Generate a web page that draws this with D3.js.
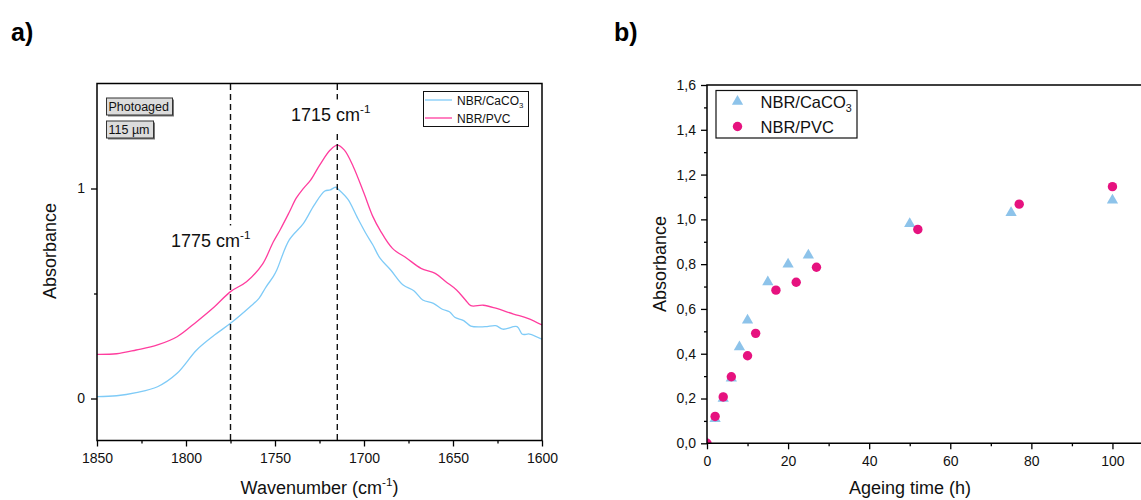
<!DOCTYPE html>
<html>
<head>
<meta charset="utf-8">
<script src="https://cdnjs.cloudflare.com/ajax/libs/d3/7.8.5/d3.min.js"></script>
<style>
    body { margin: 0; background: white; }
    svg { font-family: "Liberation Sans", Arial, sans-serif; }
</style>
</head>
<body>
<script>
// ---- panel a: FTIR spectra ----
const wnPVC = [1850,1839,1828,1816,1805,1794,1784,1775,1766,1757,1751,1747,1742,1738,1734,1730,1725,1719,1715,1711,1706,1700,1695,1691,1684,1676,1668,1660,1654,1648,1643,1640,1633,1626,1616,1608,1600];
const absPVC = [0.210,0.213,0.231,0.255,0.294,0.366,0.437,0.509,0.556,0.640,0.745,0.805,0.887,0.955,1.001,1.040,1.110,1.183,1.207,1.183,1.104,0.977,0.866,0.802,0.715,0.668,0.620,0.596,0.556,0.517,0.469,0.442,0.444,0.430,0.402,0.382,0.350];
const wnCaCO3 = [1850,1839,1828,1816,1805,1794,1784,1775,1764,1759,1755,1751,1749,1742,1734,1728,1722,1719,1716,1714,1709,1704,1699,1695,1691,1685,1678,1672,1667,1661,1656,1652,1649,1644,1640,1632,1626,1622,1614,1611,1607,1600];
const absCaCO3 = [0.009,0.013,0.028,0.056,0.120,0.231,0.302,0.358,0.437,0.477,0.532,0.580,0.612,0.755,0.834,0.921,0.988,0.993,1.006,0.993,0.948,0.866,0.787,0.731,0.668,0.612,0.540,0.513,0.469,0.453,0.425,0.413,0.387,0.371,0.345,0.342,0.347,0.330,0.342,0.306,0.307,0.282];
const peakLines = [1775, 1715];
const xTicksA = [1850, 1800, 1750, 1700, 1650, 1600];
const xMinorA = [1825, 1775, 1725, 1675, 1625];
const yTicksA = [0, 1];
const yMinorA = [0.5];

// ---- panel b: absorbance vs ageing time ----
const timeCaCO3 = [0, 2, 4, 6, 8, 10, 15, 20, 25, 50, 75, 100];
const absTimeCaCO3 = [0, 0.11, 0.20, 0.29, 0.43, 0.55, 0.72, 0.80, 0.84, 0.98, 1.03, 1.085];
const timePVC = [0, 2, 4, 6, 10, 12, 17, 22, 27, 52, 77, 100];
const absTimePVC = [0, 0.12, 0.207, 0.297, 0.391, 0.491, 0.684, 0.719, 0.786, 0.955, 1.068, 1.146];
const xTicksB = [0, 20, 40, 60, 80, 100];
const xMinorB = [10, 30, 50, 70, 90];
const yTicksB = [0, 0.2, 0.4, 0.6, 0.8, 1.0, 1.2, 1.4, 1.6];
const yMinorB = [0.1, 0.3, 0.5, 0.7, 0.9, 1.1, 1.3, 1.5];

const blueLine = '#7fcbf7';
const pinkLine = '#ff3d9e';
const blueMark = '#8dc3ea';
const pinkMark = '#e6127f';

const svg = d3.select('body').append('svg')
    .attr('width', 1141)
    .attr('height', 500);

// helper: text with superscript/subscript pieces
function richText(g, x, y, parts, size, anchor) {
    const t = g.append('text').attr('x', x).attr('y', y)
        .attr('font-size', size).attr('fill', '#111')
        .attr('text-anchor', anchor || 'start');
    parts.forEach(p => {
        const s = t.append('tspan').text(p.t);
        if (p.sup) s.attr('font-size', size * 0.65).attr('dy', -size * 0.42);
        else if (p.sub) s.attr('font-size', size * 0.65).attr('dy', size * 0.25);
        if (p.back) s.attr('dy', p.back);
    });
    return t;
}

function styleAxis(g) {
    g.select('.domain').remove();
    g.selectAll('line').attr('stroke', '#000').attr('stroke-width', 1.3);
    g.selectAll('text').attr('fill', '#111');
}

// ================= panel a =================
const ax = d3.scaleLinear().domain([1850, 1600]).range([97, 542]);
const ay = d3.scaleLinear().domain([-0.2, 1.5]).range([440.5, 83.5]);

const ga = svg.append('g');
svg.append('text').attr('x', 11).attr('y', 41).attr('font-size', 25)
    .attr('font-weight', 'bold').text('a)');

ga.append('clipPath').attr('id', 'clipA').append('rect')
    .attr('x', 97).attr('y', 83.5).attr('width', 445).attr('height', 357);

const lineA = d3.line().x(d => ax(d[0])).y(d => ay(d[1])).curve(d3.curveCatmullRom.alpha(0.5));
ga.append('path')
    .datum(wnCaCO3.map((w, i) => [w, absCaCO3[i]]))
    .attr('clip-path', 'url(#clipA)')
    .attr('fill', 'none').attr('stroke', blueLine).attr('stroke-width', 1.3)
    .attr('d', lineA);
ga.append('path')
    .datum(wnPVC.map((w, i) => [w, absPVC[i]]))
    .attr('clip-path', 'url(#clipA)')
    .attr('fill', 'none').attr('stroke', pinkLine).attr('stroke-width', 1.3)
    .attr('d', lineA);

// dashed peak markers
ga.selectAll('.peak').data(peakLines).enter().append('line')
    .attr('x1', d => ax(d)).attr('x2', d => ax(d))
    .attr('y1', 84).attr('y2', 440)
    .attr('stroke', '#111').attr('stroke-width', 1.4)
    .attr('stroke-dasharray', '6,4');

// peak labels with white background
[[1775, 171, 247], [1715, 291, 121]].forEach(p => {
    const t = richText(ga, p[1], p[2], [{t: p[0] + ' cm'}, {t: '-1', sup: true}], 18);
    const bb = t.node().getBBox();
    ga.insert('rect', () => t.node())
        .attr('x', bb.x - 1).attr('y', bb.y - 3)
        .attr('width', bb.width + 2).attr('height', bb.height + 8)
        .attr('fill', 'white');
});

// axes
const axB = ga.append('g').attr('transform', 'translate(0,440.5)')
    .call(d3.axisBottom(ax).tickValues(xTicksA).tickSize(6).tickPadding(7).tickFormat(d3.format('d')));
axB.selectAll('text').attr('font-size', 14);
styleAxis(axB);
const axBm = ga.append('g').attr('transform', 'translate(0,440.5)')
    .call(d3.axisBottom(ax).tickValues(xMinorA).tickSize(3).tickFormat(''));
styleAxis(axBm);
const ayL = ga.append('g').attr('transform', 'translate(97,0)')
    .call(d3.axisLeft(ay).tickValues(yTicksA).tickSize(6).tickPadding(6).tickFormat(d3.format('d')));
ayL.selectAll('text').attr('font-size', 14);
styleAxis(ayL);
const ayLm = ga.append('g').attr('transform', 'translate(97,0)')
    .call(d3.axisLeft(ay).tickValues(yMinorA).tickSize(3).tickFormat(''));
styleAxis(ayLm);

ga.append('rect').attr('x', 97).attr('y', 83.5).attr('width', 445).attr('height', 357)
    .attr('fill', 'none').attr('stroke', '#000').attr('stroke-width', 1.5);

richText(ga, 319.5, 494, [{t: 'Wavenumber (cm'}, {t: '-1', sup: true}, {t: ')', back: 7}], 18, 'middle');
ga.append('text').attr('transform', 'translate(56,251) rotate(-90)')
    .attr('text-anchor', 'middle').attr('font-size', 18).attr('fill', '#111').text('Absorbance');

// info boxes
[['Photoaged', 98, 66], ['115 µm', 121, 47]].forEach(b => {
    ga.append('rect').attr('x', 108).attr('y', b[1] + 1.5).attr('width', b[2]).attr('height', 17)
        .attr('fill', '#777');
    ga.append('rect').attr('x', 106.5).attr('y', b[1]).attr('width', b[2]).attr('height', 17)
        .attr('fill', '#dcdcdc').attr('stroke', '#333').attr('stroke-width', 1);
    ga.append('text').attr('x', 108.5).attr('y', b[1] + 13).attr('font-size', 12.5)
        .attr('fill', '#111').text(b[0]);
});

// legend a
const legA = ga.append('g');
legA.append('rect').attr('x', 423.5).attr('y', 91.5).attr('width', 105).attr('height', 35)
    .attr('fill', 'white').attr('stroke', '#111').attr('stroke-width', 1);
[[blueLine, 100, [{t: 'NBR/CaCO'}, {t: '3', sub: true}]], [pinkLine, 118, [{t: 'NBR/PVC'}]]].forEach(r => {
    legA.append('line').attr('x1', 425).attr('x2', 452).attr('y1', r[1]).attr('y2', r[1])
        .attr('stroke', r[0]).attr('stroke-width', 1.3);
    richText(legA, 457, r[1] + 4.5, r[2], 12);
});

// ================= panel b =================
const bx = d3.scaleLinear().domain([0, 110]).range([707, 1153]);
const by = d3.scaleLinear().domain([0, 1.6]).range([443.3, 85]);
const gb = svg.append('g');
svg.append('text').attr('x', 614).attr('y', 41).attr('font-size', 25)
    .attr('font-weight', 'bold').text('b)');

gb.append('clipPath').attr('id', 'clipB').append('rect')
    .attr('x', 707).attr('y', 85).attr('width', 446).attr('height', 358.3);

const tri = d3.symbol().type(d3.symbolTriangle).size(55);
gb.append('g').attr('clip-path', 'url(#clipB)')
    .selectAll('path').data(timeCaCO3.map((t, i) => [t, absTimeCaCO3[i]])).enter().append('path')
    .attr('d', tri)
    .attr('transform', d => `translate(${bx(d[0])},${by(d[1])})`)
    .attr('fill', blueMark);
gb.append('g').attr('clip-path', 'url(#clipB)')
    .selectAll('circle').data(timePVC.map((t, i) => [t, absTimePVC[i]])).enter().append('circle')
    .attr('cx', d => bx(d[0])).attr('cy', d => by(d[1])).attr('r', 4.7)
    .attr('fill', pinkMark);

const comma = d => d3.format('.1f')(d).replace('.', ',');
const bxA = gb.append('g').attr('transform', 'translate(0,443.3)')
    .call(d3.axisBottom(bx).tickValues(xTicksB).tickSize(6).tickPadding(7).tickFormat(d3.format('d')));
bxA.selectAll('text').attr('font-size', 14);
styleAxis(bxA);
const bxAm = gb.append('g').attr('transform', 'translate(0,443.3)')
    .call(d3.axisBottom(bx).tickValues(xMinorB).tickSize(3).tickFormat(''));
styleAxis(bxAm);
const byA = gb.append('g').attr('transform', 'translate(707,0)')
    .call(d3.axisLeft(by).tickValues(yTicksB).tickSize(6).tickPadding(5).tickFormat(comma));
byA.selectAll('text').attr('font-size', 14);
styleAxis(byA);
const byAm = gb.append('g').attr('transform', 'translate(707,0)')
    .call(d3.axisLeft(by).tickValues(yMinorB).tickSize(3).tickFormat(''));
styleAxis(byAm);

gb.append('path').attr('d', 'M1145,85H707V443.3H1145')
    .attr('fill', 'none').attr('stroke', '#000').attr('stroke-width', 1.5);

gb.append('text').attr('x', 910).attr('y', 494).attr('text-anchor', 'middle')
    .attr('font-size', 18).attr('fill', '#111').text('Ageing time (h)');
gb.append('text').attr('transform', 'translate(666,264) rotate(-90)')
    .attr('text-anchor', 'middle').attr('font-size', 18).attr('fill', '#111').text('Absorbance');

// legend b
const legB = gb.append('g');
legB.append('rect').attr('x', 716).attr('y', 90.5).attr('width', 141).attr('height', 47.5)
    .attr('fill', 'white').attr('stroke', '#111').attr('stroke-width', 1.2);
legB.append('path').attr('d', tri).attr('transform', 'translate(737.5,101.5)').attr('fill', blueMark);
legB.append('circle').attr('cx', 737.5).attr('cy', 126.5).attr('r', 4.7).attr('fill', pinkMark);
richText(legB, 760.5, 108, [{t: 'NBR/CaCO'}, {t: '3', sub: true}], 16.5);
richText(legB, 760.5, 132.5, [{t: 'NBR/PVC'}], 16.5);
</script>
</body>
</html>
